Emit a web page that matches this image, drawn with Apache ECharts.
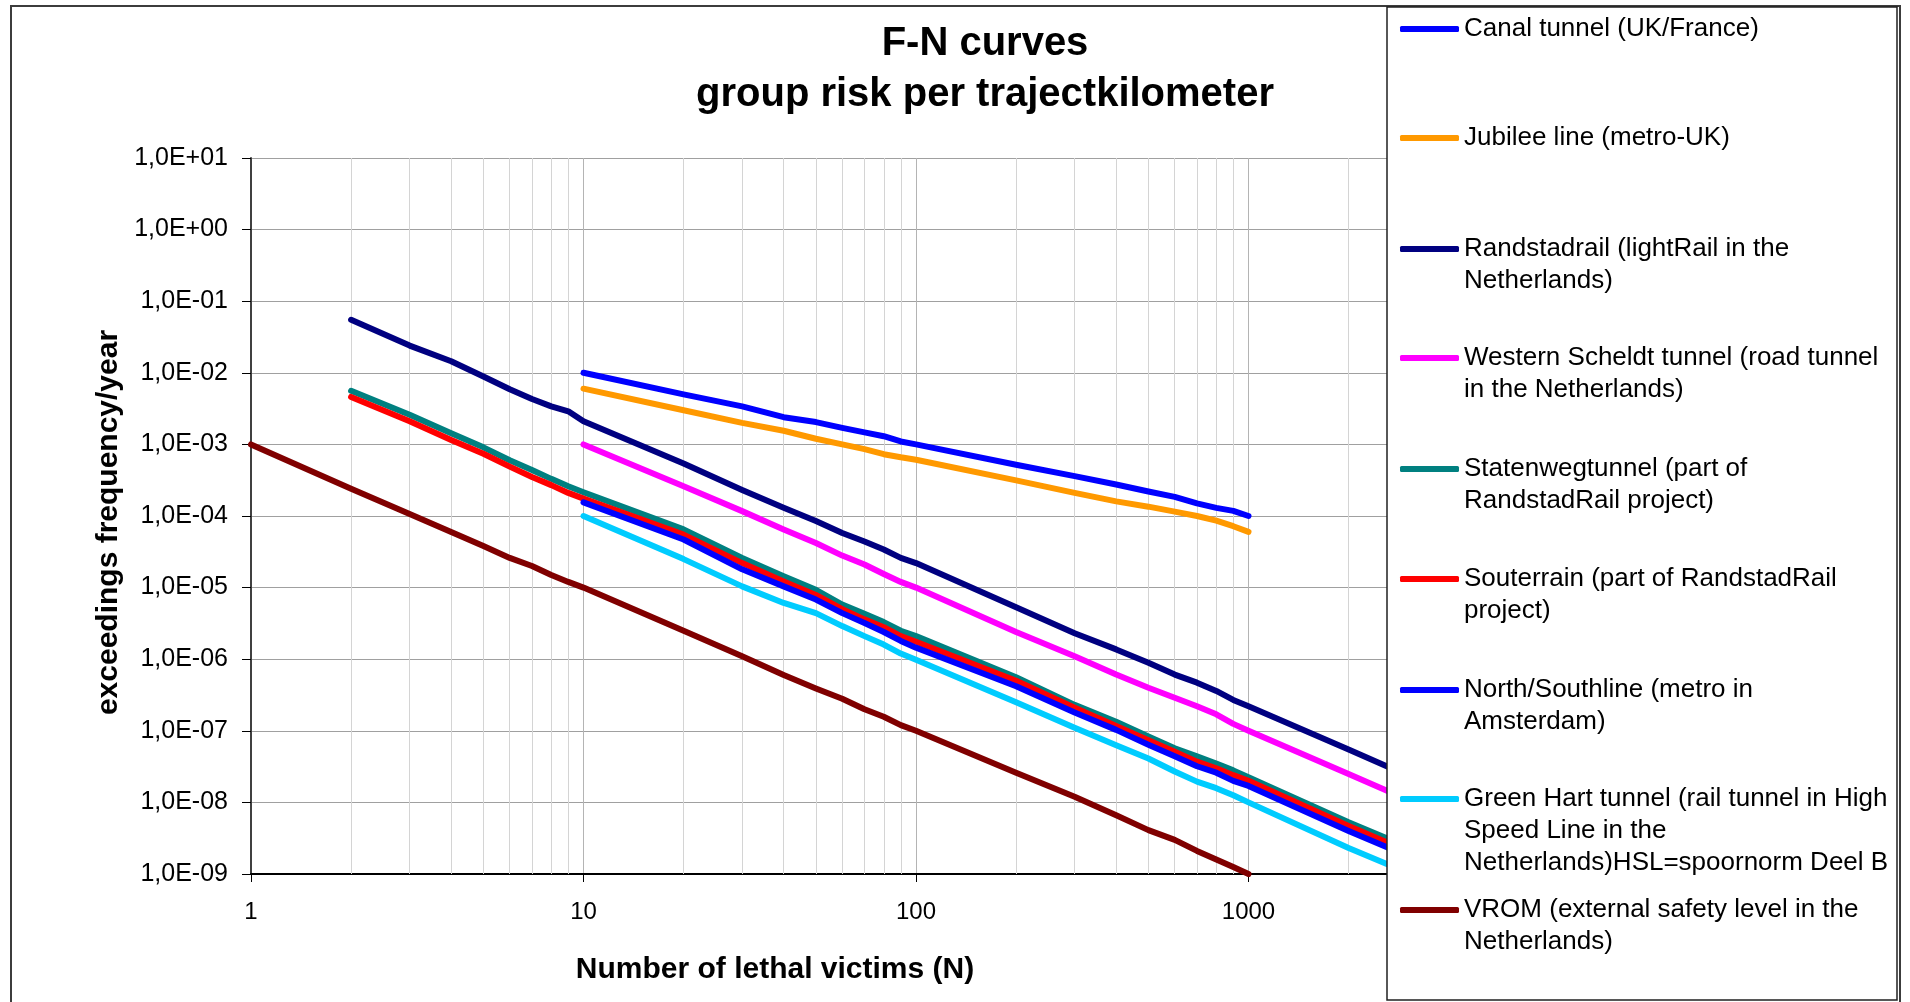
<!DOCTYPE html>
<html><head><meta charset="utf-8">
<script src="https://cdn.jsdelivr.net/npm/echarts@6/dist/echarts.min.js"></script>
<style>html,body{margin:0;padding:0;background:#fff}#c{width:1910px;height:1002px}</style>
</head><body><div id="c"></div>
<script>
// ---------------- DATA ----------------
const seriesNames = [
  'Canal tunnel (UK/France)',
  'Jubilee line (metro-UK)',
  'Randstadrail (lightRail in the Netherlands)',
  'Western Scheldt tunnel (road tunnel in the Netherlands)',
  'Statenwegtunnel (part of RandstadRail project)',
  'Souterrain (part of RandstadRail project)',
  'North/Southline (metro in Amsterdam)',
  'Green Hart tunnel (rail tunnel in High Speed Line in the Netherlands)HSL=spoornorm Deel B',
  'VROM (external safety level in the Netherlands)'
];
const legendLines = [
  ['Canal tunnel (UK/France)'],
  ['Jubilee line (metro-UK)'],
  ['Randstadrail (lightRail in the', 'Netherlands)'],
  ['Western Scheldt tunnel (road tunnel', 'in the Netherlands)'],
  ['Statenwegtunnel (part of', 'RandstadRail project)'],
  ['Souterrain (part of RandstadRail', 'project)'],
  ['North/Southline (metro in', 'Amsterdam)'],
  ['Green Hart tunnel (rail tunnel in High', 'Speed Line in the', 'Netherlands)HSL=spoornorm Deel B'],
  ['VROM (external safety level in the', 'Netherlands)']
];

const nCanal = [10,20,30,40,50,60,70,80,90,100,200,300,400,500,600,700,800,900,1000];
const fCanal = [1.0e-2,5.0e-3,3.4e-3,2.4e-3,2.05e-3,1.7e-3,1.47e-3,1.3e-3,1.1e-3,1.0e-3,5.2e-4,3.6e-4,2.75e-4,2.2e-4,1.85e-4,1.5e-4,1.3e-4,1.18e-4,1.0e-4];

const nJubilee = [10,20,30,40,50,60,70,80,90,100,200,300,400,500,600,700,800,900,1000];
const fJubilee = [6.0e-3,3.0e-3,2.0e-3,1.55e-3,1.2e-3,1.0e-3,8.6e-4,7.3e-4,6.6e-4,6.1e-4,3.15e-4,2.1e-4,1.6e-4,1.35e-4,1.15e-4,1.0e-4,8.6e-5,7.2e-5,6.0e-5];

const nRandstad = [2,3,4,5,6,7,8,9,10,20,30,40,50,60,70,80,90,100,200,300,400,500,600,700,800,900,1000,2000,3000,5000,10000];
const fRandstad = [5.5e-2,2.4e-2,1.45e-2,8.9e-3,5.9e-3,4.3e-3,3.4e-3,2.9e-3,2.1e-3,5.4e-4,2.3e-4,1.3e-4,8.5e-5,5.8e-5,4.4e-5,3.4e-5,2.6e-5,2.2e-5,5.3e-6,2.3e-6,1.37e-6,8.9e-7,6.1e-7,4.7e-7,3.6e-7,2.7e-7,2.2e-7,5.5e-8,2.4e-8,8.8e-9,2.2e-9];

const nScheldt = [10,20,30,40,50,60,70,80,90,100,200,300,400,500,600,700,800,900,1000,2000,3000,5000,10000];
const fScheldt = [1.0e-3,2.6e-4,1.17e-4,6.5e-5,4.2e-5,2.8e-5,2.1e-5,1.55e-5,1.2e-5,1.0e-5,2.4e-6,1.1e-6,6.1e-7,4.0e-7,2.9e-7,2.2e-7,1.7e-7,1.25e-7,1.0e-7,2.5e-8,1.1e-8,4.0e-9,1.0e-9];

const nStaten = [2,3,4,5,6,7,8,9,10,20,30,40,50,60,70,80,90,100,200,300,400,500,600,700,800,900,1000,2000,3000];
const fStaten = [5.6e-3,2.6e-3,1.43e-3,9.1e-4,6.0e-4,4.4e-4,3.3e-4,2.6e-4,2.15e-4,6.5e-5,2.6e-5,1.44e-5,9.3e-6,5.8e-6,4.3e-6,3.3e-6,2.5e-6,2.1e-6,5.6e-7,2.3e-7,1.34e-7,8.3e-8,5.7e-8,4.4e-8,3.5e-8,2.8e-8,2.25e-8,5.3e-9,2.4e-9];

const nSouterrain = [2,3,4,5,6,7,8,9,10,20,30,40,50,60,70,80,90,100,200,300,400,500,600,700,800,900,1000,2000,3000];
const fSouterrain = [4.6e-3,2.1e-3,1.15e-3,7.4e-4,4.9e-4,3.5e-4,2.7e-4,2.1e-4,1.75e-4,5.5e-5,2.2e-5,1.22e-5,7.9e-6,5.0e-6,3.6e-6,2.8e-6,2.1e-6,1.75e-6,5.0e-7,2.1e-7,1.17e-7,7.4e-8,5.1e-8,3.7e-8,3.0e-8,2.4e-8,2.0e-8,4.7e-9,2.1e-9];

const nNorthSouth = [10,20,30,40,50,60,70,80,90,100,200,300,400,500,600,700,800,900,1000,2000,3000];
const fNorthSouth = [1.55e-4,4.7e-5,1.8e-5,1.04e-5,6.8e-6,4.4e-6,3.2e-6,2.4e-6,1.8e-6,1.45e-6,4.2e-7,1.8e-7,1.03e-7,6.4e-8,4.4e-8,3.2e-8,2.6e-8,2.0e-8,1.7e-8,4.0e-9,1.8e-9];

const nGreenHart = [10,20,30,40,50,60,70,80,90,100,200,300,400,500,600,700,800,900,1000,2000,3000];
const fGreenHart = [1.0e-4,2.5e-5,1.04e-5,6.1e-6,4.4e-6,2.9e-6,2.1e-6,1.6e-6,1.2e-6,9.8e-7,2.5e-7,1.1e-7,6.3e-8,4.1e-8,2.7e-8,1.95e-8,1.58e-8,1.26e-8,1.0e-8,2.3e-9,1.05e-9];

const nVROM = [1,2,3,4,5,6,7,8,9,10,20,30,40,50,60,70,80,90,100,200,300,400,500,600,700,800,900,1000];
const fVROM = [1.0e-3,2.4e-4,1.07e-4,6.0e-5,3.8e-5,2.6e-5,2.0e-5,1.5e-5,1.2e-5,1.0e-5,2.5e-6,1.1e-6,6.0e-7,3.9e-7,2.8e-7,2.0e-7,1.57e-7,1.2e-7,1.0e-7,2.6e-8,1.2e-8,6.6e-9,4.1e-9,3.0e-9,2.1e-9,1.6e-9,1.25e-9,1.0e-9];

const xTickLabels = ['1','10','100','1000','10000'];
const yTickLabels = ['1,0E-09','1,0E-08','1,0E-07','1,0E-06','1,0E-05','1,0E-04','1,0E-03','1,0E-02','1,0E-01','1,0E+00','1,0E+01'];
const minorGridN = [2,3,4,5,6,7,8,9,20,30,40,50,60,70,80,90,200,300,400,500,600,700,800,900,2000,3000,4000,5000,6000,7000,8000,9000];

// ---------------- STYLE / LAYOUT ----------------
const FONT = '"Liberation Sans", Arial, Helvetica, sans-serif';
const colors = ['#0000FF','#FF9900','#000080','#FF00FF','#008080','#FF0000','#0000FF','#00CCFF','#800000'];
const allN = [nCanal,nJubilee,nRandstad,nScheldt,nStaten,nSouterrain,nNorthSouth,nGreenHart,nVROM];
const allF = [fCanal,fJubilee,fRandstad,fScheldt,fStaten,fSouterrain,fNorthSouth,fGreenHart,fVROM];
const legendCenters = [29,138,249,358,469,579,690,799,910];
const LH = 32;

const series = seriesNames.map((name, i) => ({
  name: name,
  type: 'line',
  data: allN[i].map((n, j) => [n, allF[i][j]]),
  color: colors[i],
  symbol: 'none',
  showSymbol: false,
  lineStyle: { width: 6, color: colors[i], cap: 'round', join: 'round' },
  z: 2,
  clip: true,
  emphasis: { disabled: true },
  animation: false
}));
series.unshift({
  name: '_minorGrid',
  type: 'line',
  data: [],
  z: 1,
  silent: true,
  animation: false,
  markLine: {
    z: 1,
    silent: true,
    animation: false,
    symbol: ['none', 'none'],
    label: { show: false },
    emphasis: { disabled: true },
    lineStyle: { color: '#d4d4d4', width: 1, type: 'solid' },
    data: minorGridN.map(v => ({ xAxis: v }))
  }
});

const legends = seriesNames.map((name, i) => {
  const lines = legendLines[i];
  const pad = lines.length - 1;
  const shown = Array(pad).fill('').concat(lines);
  const nLines = shown.length;
  return {
    data: [name],
    orient: 'vertical',
    left: 1400,
    top: legendCenters[i] - LH * nLines / 2,
    padding: 0,
    itemGap: 0,
    itemWidth: 59,
    itemHeight: 6,
    icon: 'roundRect',
    selectedMode: false,
    formatter: () => shown.join('\n'),
    textStyle: { fontFamily: FONT, fontSize: 26, lineHeight: LH, color: '#000' },
    z: 5
  };
});

const option = {
  backgroundColor: '#ffffff',
  animation: false,
  title: {
    text: 'F-N curves\ngroup risk per trajectkilometer',
    left: 985,
    textAlign: 'center',
    top: 18,
    padding: 0,
    textStyle: { fontFamily: FONT, fontSize: 40, fontWeight: 'bold', lineHeight: 51, color: '#000' }
  },
  legend: legends,
  grid: { left: 251, top: 158, width: 1330, height: 716, containLabel: false },
  xAxis: {
    type: 'log',
    logBase: 10,
    min: 1,
    max: 10000,
    splitNumber: 4,
    name: 'Number of lethal victims (N)',
    nameLocation: 'middle',
    nameGap: 81,
    nameTextStyle: { fontFamily: FONT, fontSize: 30, fontWeight: 'bold', lineHeight: 30, color: '#000', padding: [0, 282, 0, 0] },
    axisLine: { show: true, lineStyle: { color: '#000', width: 2 } },
    axisTick: { show: true, inside: false, length: 8, lineStyle: { color: '#000', width: 1 } },
    axisLabel: {
      margin: 26,
      fontFamily: FONT, fontSize: 24, lineHeight: 24, color: '#000',
      formatter: v => xTickLabels[Math.round(Math.log10(v))]
    },
    splitLine: { show: true, lineStyle: { color: '#b4b4b4', width: 1 } },
    minorTick: { show: false },
    minorSplitLine: { show: false }
  },
  yAxis: {
    type: 'log',
    logBase: 10,
    min: 1e-9,
    max: 10,
    splitNumber: 10,
    name: 'exceedings frequency/year',
    nameLocation: 'middle',
    nameRotate: 90,
    nameGap: 120,
    nameTextStyle: { fontFamily: FONT, fontSize: 30, fontWeight: 'bold', lineHeight: 30, color: '#000', padding: [0, 13, 0, 0] },
    axisLine: { show: true, lineStyle: { color: '#404040', width: 2 } },
    axisTick: { show: true, inside: false, length: 9, lineStyle: { color: '#000', width: 1 } },
    axisLabel: {
      margin: 23,
      fontFamily: FONT, fontSize: 25, color: '#000',
      formatter: v => yTickLabels[Math.round(Math.log10(v)) + 9]
    },
    splitLine: { show: true, lineStyle: { color: '#a0a0a0', width: 1 } }
  },
  graphic: [
    { type: 'rect', z: 0, silent: true, shape: { x: 11, y: 6, width: 1889, height: 1010 }, style: { fill: 'none', stroke: '#3c3c3c', lineWidth: 2 } },
    { type: 'rect', z: 3, silent: true, shape: { x: 1387, y: 7, width: 510, height: 993 }, style: { fill: '#ffffff', stroke: '#202020', lineWidth: 1.5 } }
  ],
  series: series
};

const chart = echarts.init(document.getElementById('c'), null, { renderer: 'canvas' });
chart.setOption(option);
</script>
</body></html>
